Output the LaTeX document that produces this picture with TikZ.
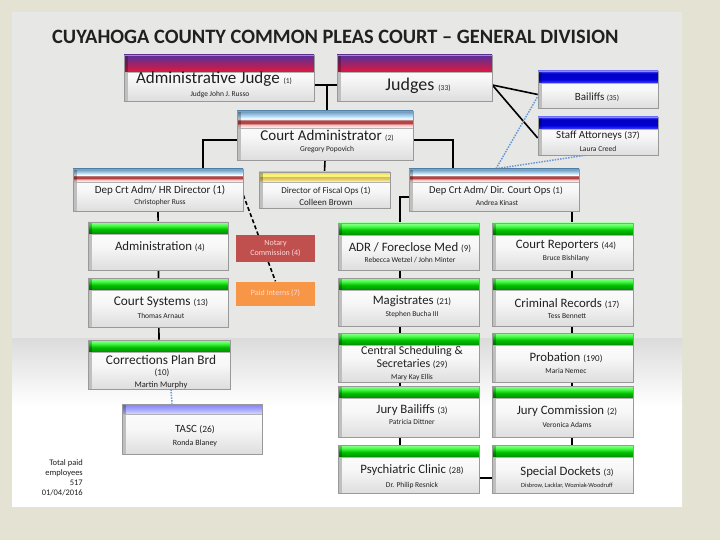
\documentclass[tikz,border=0pt]{standalone}
\usepackage{fontspec}
\setmainfont{Carlito}
\usetikzlibrary{calc}
\pgfdeclarelayer{back}
\pgfdeclarelayer{conn}
\pgfsetlayers{back,conn,main}

\definecolor{outer}{HTML}{E4E2D2}
\definecolor{panel}{HTML}{E7E7E5}
\definecolor{jr}{HTML}{E8163C}
\definecolor{jm}{HTML}{B0205C}
\definecolor{jp}{HTML}{5E2E96}
\definecolor{notary}{HTML}{C0504D}
\definecolor{interns}{HTML}{F79646}
\definecolor{dotblue}{HTML}{6A98D6}
\definecolor{txt}{HTML}{202020}

\pgfdeclareverticalshading{judgebar}{100bp}{color(0bp)=(jr); color(25bp)=(jr); color(42bp)=(jm); color(72bp)=(jp); color(100bp)=(jp)}
\pgfdeclareverticalshading{adminbar}{100bp}{color(0bp)=(white); color(25bp)=(white); color(34bp)=(red!25); color(40bp)=(red!60!black!75); color(47bp)=(red!55!black!70); color(52bp)=(white); color(58bp)=(blue!40!cyan!25!white); color(75bp)=(blue!45!cyan!35!gray!90); color(100bp)=(blue!45!cyan!35!gray!90)}
\pgfdeclareverticalshading{goldbar}{100bp}{color(0bp)=(yellow!30!white); color(25bp)=(yellow!30!white); color(40bp)=(brown!60!yellow!70); color(50bp)=(brown!70!yellow!80); color(56bp)=(yellow!50!white); color(75bp)=(brown!50!yellow!70); color(100bp)=(brown!50!yellow!70)}
\pgfdeclareverticalshading{bluebar}{100bp}{color(0bp)=(blue!75!white); color(25bp)=(blue!75!white); color(40bp)=(blue!85!black); color(65bp)=(blue!75!black); color(75bp)=(blue!70!white); color(100bp)=(blue!70!white)}
\pgfdeclareverticalshading{greenbar}{100bp}{color(0bp)=(green!55!black); color(25bp)=(green!55!black); color(45bp)=(green!75!black); color(62bp)=(green!70!white); color(75bp)=(green!40!white); color(100bp)=(green!40!white)}
\pgfdeclareverticalshading{tascbar}{100bp}{color(0bp)=(blue!15!white); color(25bp)=(blue!15!white); color(50bp)=(blue!35!white); color(75bp)=(blue!50!white); color(100bp)=(blue!50!white)}
\pgfdeclareverticalshading{boxface}{100bp}{color(0bp)=(black!13); color(25bp)=(black!13); color(50bp)=(black!3); color(75bp)=(white); color(100bp)=(white)}
\pgfdeclareverticalshading{lowpanel}{100bp}{color(0bp)=(white); color(25bp)=(white); color(55bp)=(white); color(75bp)=(black!14); color(100bp)=(black!14)}

\newcommand\cnt[1]{{\fontsize{7.5}{8}\selectfont #1}}
\newcommand\obox[7]{%
  \node[obox, minimum width={(#4)-(#2)}, minimum height={(#5)-(#3)},
    path picture={
      \fill[black!25] (path picture bounding box.north west) rectangle ([xshift=4pt]path picture bounding box.south west);
      \shade[shading=#7] (path picture bounding box.north west) rectangle ([yshift=-#6pt]path picture bounding box.north east);
      \fill[black, opacity=.25] (path picture bounding box.north west) rectangle ([xshift=4pt,yshift=-#6pt]path picture bounding box.north west);
      \draw[black!30, line width=0.5pt] ([yshift=-#6pt]path picture bounding box.north west) -- ([yshift=-#6pt]path picture bounding box.north east);
    }] (#1) at ({((#2)+(#4))/2},{((#3)+(#5))/2}) {};}

\tikzset{
  obox/.style={rectangle, draw=black!40, line width=0.6pt, inner sep=0pt, shading=boxface},
  flat/.style={rectangle, inner sep=0pt, text=white!85!red, align=center, font=\fontsize{8}{10}\selectfont},
  lab/.style={inner sep=0pt, text=txt, align=center},
  sub/.style={inner sep=0pt, text=txt, font=\fontsize{7.5}{8}\selectfont},
  conn/.style={line width=1.6pt, black},
  dashconn/.style={line width=1.6pt, black, dash pattern=on 4pt off 2.5pt},
  dotconn/.style={line width=1.5pt, dotblue, dash pattern=on 1.5pt off 1.2pt},
}

\begin{document}
\begin{tikzpicture}[x=1pt,y=-1pt]
\useasboundingbox (0,0) rectangle (720,540);
\begin{pgfonlayer}{back}
  \fill[outer] (0,0) rectangle (720,540);
  \fill[panel] (12,12) rectangle (682,338);
  \shade[shading=lowpanel] (12,338) rectangle (682,506);
\end{pgfonlayer}

\node[anchor=west, inner sep=0pt, text=txt, font=\bfseries\fontsize{20.4}{22}\selectfont] (title) at (52,37) {CUYAHOGA COUNTY COMMON PLEAS COURT – GENERAL DIVISION};

% boxes
\obox{aj}{124}{55}{314}{101}{17}{judgebar}
\obox{judges}{337}{55}{492}{101}{17}{judgebar}
\obox{bailiffs}{538}{71}{658}{108}{12}{bluebar}
\obox{staff}{538}{117}{658}{155}{12}{bluebar}
\obox{ca}{237}{111}{413}{160}{17}{adminbar}
\obox{hr}{73}{169}{243}{211}{13}{adminbar}
\obox{fiscal}{259}{172}{390}{208}{10}{goldbar}
\obox{dirops}{409}{169}{579}{211}{13}{adminbar}
\obox{adm}{88}{222}{228}{270}{12}{greenbar}
\obox{csys}{88}{278}{228}{327}{12}{greenbar}
\obox{corr}{88}{340}{230}{389}{12}{greenbar}
\obox{tasc}{122}{404}{262}{454}{10}{tascbar}
\obox{adr}{338}{223}{479}{270}{12}{greenbar}
\obox{creps}{492}{223}{633}{270}{12}{greenbar}
\obox{mag}{338}{278}{479}{326}{12}{greenbar}
\obox{crim}{492}{278}{633}{326}{12}{greenbar}
\obox{csched}{338}{333}{479}{382}{12}{greenbar}
\obox{prob}{492}{333}{633}{382}{12}{greenbar}
\obox{jbail}{338}{386}{479}{437}{12}{greenbar}
\obox{jcomm}{492}{386}{633}{437}{12}{greenbar}
\obox{psych}{338}{445}{479}{493}{12}{greenbar}
\obox{special}{492}{445}{633}{493}{12}{greenbar}

\node[flat, fill=notary, minimum width=79pt, minimum height=27pt] (notary) at (275.5,248.5) {Notary\\Commission (4)};
\node[flat, fill=interns, minimum width=79pt, minimum height=24pt] (interns) at (275.5,293.5) {Paid Interns (7)};

% texts
\node[lab, font=\fontsize{17}{19}\selectfont] (aj-t) at (214,79) {Administrative Judge \cnt{(1)}};
\node[sub] (aj-n) at (220,95) {Judge John J. Russo};
\node[lab, font=\fontsize{18}{20}\selectfont] (judges-t) at (418,86) {Judges \cnt{(33)}};
\node[lab, font=\fontsize{11}{12}\selectfont] (bailiffs-t) at (597,97) {Bailiffs \cnt{(35)}};
\node[lab, font=\fontsize{11}{12}\selectfont] (staff-t) at (598,136) {Staff Attorneys \fontsize{9.5}{10}\selectfont(37)};
\node[sub] (staff-n) at (598,149) {Laura Creed};
\node[lab, font=\fontsize{15}{16}\selectfont] (ca-t) at (327,136) {Court Administrator \cnt{(2)}};
\node[sub] (ca-n) at (327,150) {Gregory Popovich};
\node[lab, font=\fontsize{11}{12}\selectfont] (hr-t) at (160,190) {Dep Crt Adm/ HR Director (1)};
\node[sub] (hr-n) at (160,203) {Christopher Russ};
\node[lab, font=\fontsize{9}{10}\selectfont] (fiscal-t) at (326,191) {Director of Fiscal Ops (1)};
\node[lab, font=\fontsize{9}{10}\selectfont] (fiscal-n) at (326,202) {Colleen Brown};
\node[lab, font=\fontsize{10.5}{12}\selectfont] (dirops-t) at (496,191) {Dep Crt Adm/ Dir. Court Ops \fontsize{9}{10}\selectfont(1)};
\node[sub] (dirops-n) at (497,203) {Andrea Kinast};
\node[lab, font=\fontsize{12.8}{14}\selectfont] (adm-t) at (160,247) {Administration \fontsize{9}{10}\selectfont(4)};
\node[lab, font=\fontsize{13.3}{14}\selectfont] (csys-t) at (161,302) {Court Systems \fontsize{9}{10}\selectfont(13)};
\node[sub] (csys-n) at (161,316) {Thomas Arnaut};
\node[lab, font=\fontsize{13.3}{14}\selectfont] (corr-t) at (161,360) {Corrections Plan Brd};
\node[lab, font=\fontsize{9}{10}\selectfont] (corr-c) at (162,373) {(10)};
\node[lab, font=\fontsize{8.5}{9}\selectfont] (corr-n) at (161,385) {Martin Murphy};
\node[lab, font=\fontsize{11}{12}\selectfont] (tasc-t) at (195,430) {TASC \fontsize{9.5}{10}\selectfont(26)};
\node[lab, font=\fontsize{8}{9}\selectfont] (tasc-n) at (195,443) {Ronda Blaney};
\node[lab, font=\fontsize{12.8}{14}\selectfont] (adr-t) at (410,248) {ADR / Foreclose Med \fontsize{9}{10}\selectfont(9)};
\node[sub] (adr-n) at (410,260) {Rebecca Wetzel / John Minter};
\node[lab, font=\fontsize{12.8}{14}\selectfont] (creps-t) at (566,245) {Court Reporters \fontsize{9}{10}\selectfont(44)};
\node[sub] (creps-n) at (566,258) {Bruce Bishilany};
\node[lab, font=\fontsize{12.8}{14}\selectfont] (mag-t) at (412,301) {Magistrates \fontsize{9}{10}\selectfont(21)};
\node[sub] (mag-n) at (412,314) {Stephen Bucha III};
\node[lab, font=\fontsize{12.8}{14}\selectfont] (crim-t) at (567,304) {Criminal Records \fontsize{9}{10}\selectfont(17)};
\node[sub] (crim-n) at (567,316) {Tess Bennett};
\node[lab, font=\fontsize{12}{13}\selectfont] (csched-t1) at (412,351) {Central Scheduling \&};
\node[lab, font=\fontsize{12}{13}\selectfont] (csched-t2) at (412,364) {Secretaries \fontsize{9}{10}\selectfont(29)};
\node[sub] (csched-n) at (412,377) {Mary Kay Ellis};
\node[lab, font=\fontsize{12.8}{14}\selectfont] (prob-t) at (566,358) {Probation \fontsize{9}{10}\selectfont(190)};
\node[sub] (prob-n) at (566,371) {Maria Nemec};
\node[lab, font=\fontsize{12.8}{14}\selectfont] (jbail-t) at (412,410) {Jury Bailiffs \fontsize{9}{10}\selectfont(3)};
\node[sub] (jbail-n) at (412,422) {Patricia Dittner};
\node[lab, font=\fontsize{12.8}{14}\selectfont] (jcomm-t) at (567,411) {Jury Commission \fontsize{9}{10}\selectfont(2)};
\node[sub] (jcomm-n) at (567,425) {Veronica Adams};
\node[lab, font=\fontsize{12.8}{14}\selectfont] (psych-t) at (412,470) {Psychiatric Clinic \fontsize{9}{10}\selectfont(28)};
\node[sub] (psych-n) at (412,485) {Dr. Philip Resnick};
\node[lab, font=\fontsize{12.8}{14}\selectfont] (special-t) at (567,472) {Special Dockets \fontsize{9}{10}\selectfont(3)};
\node[lab, font=\fontsize{6.3}{7}\selectfont] (special-n) at (567,486) {Disbrow, Lacklar, Wozniak-Woodruff};

\node[anchor=east, inner sep=0pt, text=txt, align=right, font=\fontsize{8.5}{10}\selectfont] (total) at (83,478) {Total paid\\employees\\517\\01/04/2016};

% connectors
\begin{pgfonlayer}{conn}
  \coordinate (jn) at ($(ca.north)+(2,-26)$);
  \draw[conn] ([yshift=-7pt]aj.east) -- ([yshift=-7pt]judges.west);
  \draw[conn] (jn) -- (jn |- ca.north);
  \draw[conn] ([yshift=-7pt]judges.east) -- ([yshift=-5pt]bailiffs.west);
  \draw[conn] ([yshift=-7pt]judges.east) -- ([yshift=-2pt]staff.west);
  \draw[conn] ([yshift=-4.5pt]ca.west) -| ([xshift=45pt]hr.north);
  \draw[conn] ([yshift=-4.5pt]ca.east) -| ([xshift=-41pt]dirops.north);
  \draw[conn] (ca.south) -- (fiscal.north);
  \draw[conn] (hr.south) -- (corr.north);
  \draw[dashconn] ([yshift=-5pt]hr.east) -- (interns.north);
  \draw[conn] ([yshift=-7pt]dirops.west) -| ($(psych.north)+(-8.5,0)$);
  \draw[conn] ([yshift=-7pt]dirops.east) -| ($(special.north)+(9.5,0)$);
  \draw[conn] ([yshift=-9pt]psych.east) -- ([yshift=-9pt]special.west);
  \draw[dotconn] ([xshift=2pt]dirops.north) -- ([yshift=-7pt]bailiffs.west);
  \draw[dotconn] ([xshift=2pt]dirops.north) -- ([xshift=-13pt]staff.south);
  \draw[dotconn] ([xshift=12pt]corr.south) -- ([xshift=-20pt]tasc.north);
\end{pgfonlayer}
\end{tikzpicture}
\end{document}
